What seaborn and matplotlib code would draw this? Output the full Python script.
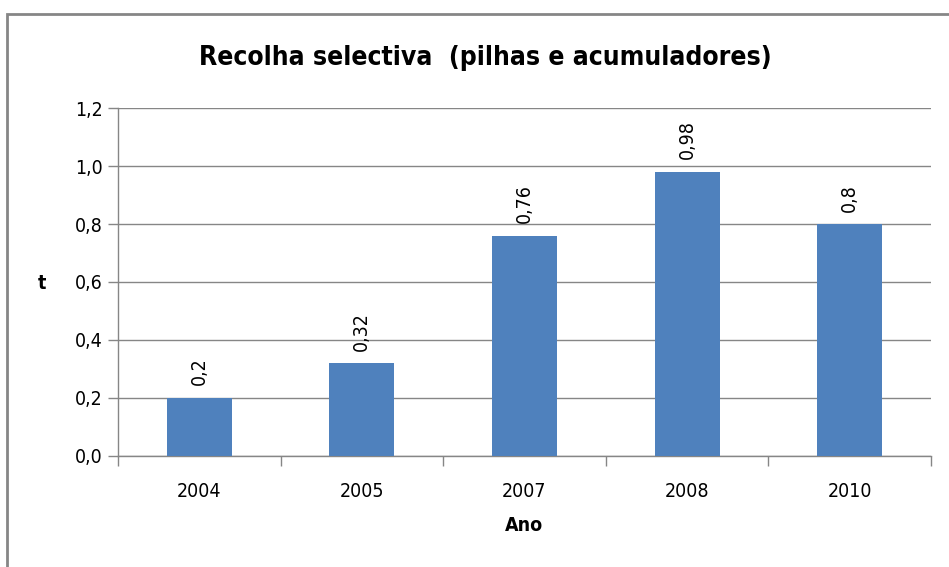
import matplotlib
matplotlib.use("Agg")
import matplotlib.pyplot as plt
import seaborn as sns
import pandas as pd
from matplotlib.patches import Rectangle
from matplotlib.ticker import FixedLocator

# dados
anos = ["2004", "2005", "2007", "2008", "2010"]
toneladas = [0.2, 0.32, 0.76, 0.98, 0.8]
rotulos = ["0,2", "0,32", "0,76", "0,98", "0,8"]
yticks = [0.0, 0.2, 0.4, 0.6, 0.8, 1.0, 1.2]
ytick_labels = ["0,0", "0,2", "0,4", "0,6", "0,8", "1,0", "1,2"]

df = pd.DataFrame({"Ano": anos, "t": toneladas})

sns.set_style("white")
plt.rcParams["font.family"] = ["DejaVu Sans"]
plt.rcParams["font.stretch"] = "condensed"
plt.rcParams["text.color"] = "black"
plt.rcParams["xtick.color"] = "black"
plt.rcParams["ytick.color"] = "black"
plt.rcParams["axes.labelcolor"] = "black"

fig = plt.figure(figsize=(9.49, 5.67), dpi=100)
ax = fig.add_axes([0.1243, 0.1958, 0.8567, 0.6137])

sns.barplot(data=df, x="Ano", y="t", color="#4F81BD", width=0.4,
            saturation=1, linewidth=0, ax=ax, zorder=3)

ax.set_ylim(0, 1.2)
ax.set_xlim(-0.5, 4.5)
ax.set_yticks(yticks)
ax.set_yticklabels(ytick_labels, fontsize=14)
ax.tick_params(axis="y", left=True, length=7, color="#868686", labelcolor="black",
               width=1, pad=4)
ax.tick_params(axis="x", which="major", bottom=False, labelsize=14, labelcolor="black",
               pad=15)
ax.xaxis.set_minor_locator(FixedLocator([-0.5, 0.5, 1.5, 2.5, 3.5, 4.5]))
ax.tick_params(axis="x", which="minor", bottom=True, length=7, color="#868686", width=1)

ax.grid(axis="y", color="#868686", linewidth=1, zorder=0)
ax.set_axisbelow(True)
for s in ["top", "right"]:
    ax.spines[s].set_visible(False)
for s in ["left", "bottom"]:
    ax.spines[s].set_color("#868686")
    ax.spines[s].set_linewidth(1)

ax.bar_label(ax.containers[0], labels=rotulos, rotation=90, padding=9, fontsize=14)

ax.set_xlabel("Ano", fontsize=14, fontweight="bold", labelpad=11)
ax.set_ylabel("")
fig.text(0.044, 0.5, "t", fontsize=14, fontweight="bold", ha="center", va="center")
fig.text(0.511, 0.898, "Recolha selectiva  (pilhas e acumuladores)", fontsize=19,
         fontweight="bold", ha="center", va="center")

# moldura do gráfico
fig.patches.append(Rectangle((0.0074, -0.05), 1.05, 1.025, transform=fig.transFigure,
                             fill=False, edgecolor="#868686", linewidth=2))

fig.savefig("out.png", dpi=100)
